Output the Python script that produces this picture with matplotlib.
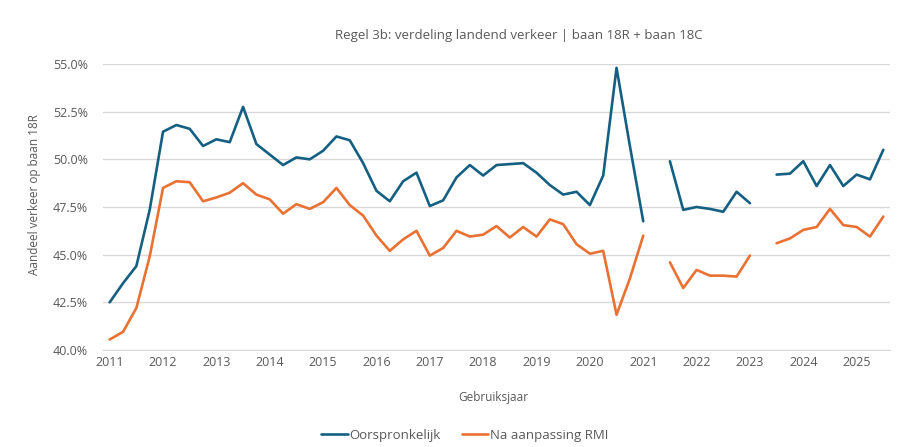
import numpy as np
import matplotlib
matplotlib.use("Agg")
from matplotlib import pyplot as plt
from matplotlib.ticker import FuncFormatter

# -----------------------------
# DATA (quarterly share, %)
# -----------------------------
start_year = 2011
year_labels = list(range(2011, 2026))
nan = np.nan

oorspronkelijk = [
    42.5, 43.5, 44.4, 47.35,
    51.45, 51.8, 51.6, 50.7,
    51.05, 50.9, 52.75, 50.8,
    50.25, 49.7, 50.1, 50.0,
    50.45, 51.2, 51.0, 49.8,
    48.35, 47.8, 48.85, 49.3,
    47.55, 47.85, 49.05, 49.7,
    49.15, 49.7, 49.75, 49.8,
    49.3, 48.65, 48.15, 48.3,
    47.6, 49.15, 54.8, 50.7,
    46.75, nan, 49.9, 47.35,
    47.5, 47.4, 47.25, 48.3,
    47.7, nan, 49.2, 49.25,
    49.9, 48.6, 49.7, 48.6,
    49.2, 48.95, 50.5,
]

na_aanpassing_rmi = [
    40.55, 40.95, 42.2, 44.9,
    48.5, 48.85, 48.8, 47.8,
    48.0, 48.25, 48.75, 48.15,
    47.9, 47.15, 47.65, 47.4,
    47.75, 48.5, 47.6, 47.05,
    46.0, 45.2, 45.8, 46.25,
    44.95, 45.35, 46.25, 45.95,
    46.05, 46.5, 45.9, 46.45,
    45.95, 46.85, 46.6, 45.55,
    45.05, 45.2, 41.85, 43.75,
    46.0, nan, 44.6, 43.25,
    44.2, 43.9, 43.9, 43.85,
    44.95, nan, 45.6, 45.85,
    46.3, 46.45, 47.4, 46.55,
    46.45, 45.95, 47.0,
]

# -----------------------------
# SETTINGS
# -----------------------------
plt.rcParams['font.family'] = ['Open Sans', 'DejaVu Sans']
text_color = "#595959"
blue = "#156082"
orange = "#E97132"

x = start_year + 0.25 * np.arange(len(oorspronkelijk))

fig = plt.figure(figsize=(9.01, 4.47), dpi=100)
ax = fig.add_axes([103 / 901, 1 - 350 / 447, (890 - 103) / 901, (350 - 64) / 447])

ax.plot(x, oorspronkelijk, color=blue, linewidth=1.9, label="Oorspronkelijk",
        solid_joinstyle="round", solid_capstyle="round")
ax.plot(x, na_aanpassing_rmi, color=orange, linewidth=1.9, label="Na aanpassing RMI",
        solid_joinstyle="round", solid_capstyle="round")

ax.set_xlim(2010.875, 2025.625)
ax.set_ylim(40, 55)
ax.set_yticks(np.arange(40, 55.1, 2.5))
ax.yaxis.set_major_formatter(FuncFormatter(lambda v, p: f"{v:.1f}%"))
ax.set_xticks(year_labels)
ax.set_xticklabels([str(y) for y in year_labels])

ax.grid(axis="y", color="#D9D9D9", linewidth=1.0)
ax.set_axisbelow(True)
for side in ["top", "right", "left"]:
    ax.spines[side].set_visible(False)
ax.spines["bottom"].set_color("#D9D9D9")
ax.tick_params(axis="both", length=0, colors=text_color, labelsize=9)
ax.tick_params(axis="x", pad=4)
ax.tick_params(axis="y", pad=11)

fig.text(519 / 901, 1 - 35 / 447, "Regel 3b: verdeling landend verkeer | baan 18R + baan 18C",
         ha="center", va="center", fontsize=9.5, color=text_color)
fig.text(493 / 901, 1 - 397 / 447, "Gebruiksjaar", ha="center", va="center",
         fontsize=8.5, color=text_color)
fig.text(35 / 901, 1 - 195 / 447, "Aandeel verkeer op baan 18R", ha="center", va="center",
         rotation=90, fontsize=8.5, color=text_color)

leg = fig.legend(loc="center", bbox_to_anchor=(465 / 901, 1 - 435 / 447), ncol=2,
                 frameon=False, fontsize=9.5, handlelength=2.0, handletextpad=0.15,
                 columnspacing=1.6)
for t in leg.get_texts():
    t.set_color(text_color)

fig.savefig("out.png", dpi=100)
